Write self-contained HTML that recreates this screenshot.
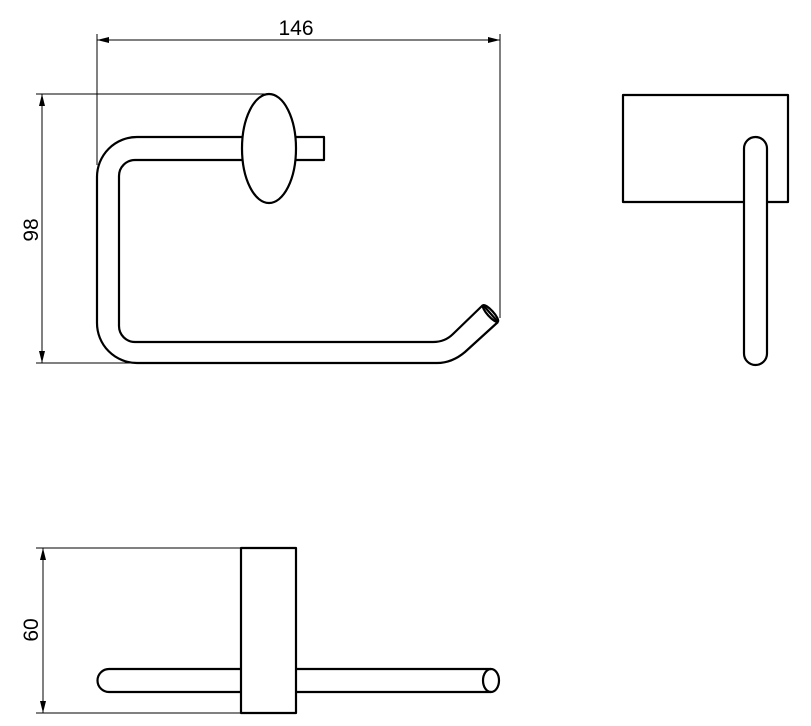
<!DOCTYPE html>
<html><head><meta charset="utf-8"><style>html,body{margin:0;padding:0;background:#fff}svg{display:block}</style></head>
<body>
<svg width="811" height="726" viewBox="0 0 811 726" xmlns="http://www.w3.org/2000/svg">
<defs>
<marker id="a" viewBox="0 0 12 6" refX="12" refY="3" markerWidth="12" markerHeight="6" orient="auto-start-reverse" markerUnits="userSpaceOnUse"><path d="M0,0 L12,3 L0,6 Z" fill="#000"/></marker>
</defs>
<g fill="none" stroke="#000" stroke-width="1">
<line x1="97" y1="34" x2="97" y2="165"/>
<line x1="500" y1="34" x2="500" y2="318"/>
<line x1="97" y1="40" x2="500" y2="40" marker-start="url(#a)" marker-end="url(#a)"/>
<line x1="36" y1="94" x2="268" y2="94"/>
<line x1="36" y1="363" x2="135" y2="363"/>
<line x1="42" y1="94" x2="42" y2="363" marker-start="url(#a)" marker-end="url(#a)"/>
<line x1="36" y1="548" x2="241" y2="548"/>
<line x1="36" y1="713" x2="241" y2="713"/>
<line x1="43" y1="548" x2="43" y2="713" marker-start="url(#a)" marker-end="url(#a)"/>
</g>
<g fill="none" stroke="#000" stroke-width="2.2" stroke-linejoin="round">
<path d="M242,137 L137,137 A40,40 0 0 0 97,177 L97,323 A40,40 0 0 0 137,363 L437,363 Q452,363 465,352 L498,322"/>
<path d="M242,160 L135,160 A16,16 0 0 0 119,176 L119,326 A16,16 0 0 0 135,342 L433,342 Q445,342 453,334 L483,305"/>
<path d="M483,305 L498,322"/>
<ellipse cx="490.5" cy="313.5" rx="3" ry="11" transform="rotate(-42 490.5 313.5)"/>
<path d="M296,137 L324,137 L324,160 L296,160"/>
<ellipse cx="269" cy="148.5" rx="27" ry="54.5" fill="#fff"/>
<rect x="623" y="95" width="165" height="107"/>
<rect x="744" y="137" width="23" height="228" rx="11.5" fill="#fff"/>
<path d="M241,669 L109,669 A11.5,11.5 0 0 0 109,692 L241,692"/>
<path d="M296,669 L491,669 M296,692 L491,692"/>
<ellipse cx="491" cy="680.5" rx="8" ry="11.5"/>
<rect x="241" y="548" width="55" height="165"/>
</g>
<g font-family="Liberation Sans Narrow, Liberation Sans, sans-serif" font-size="21" fill="#000">
<text x="296" y="35" text-anchor="middle">146</text>
<text transform="translate(38,230) rotate(-90)" text-anchor="middle">98</text>
<text transform="translate(38,630) rotate(-90)" text-anchor="middle">60</text>
</g>
</svg>
</body></html>
